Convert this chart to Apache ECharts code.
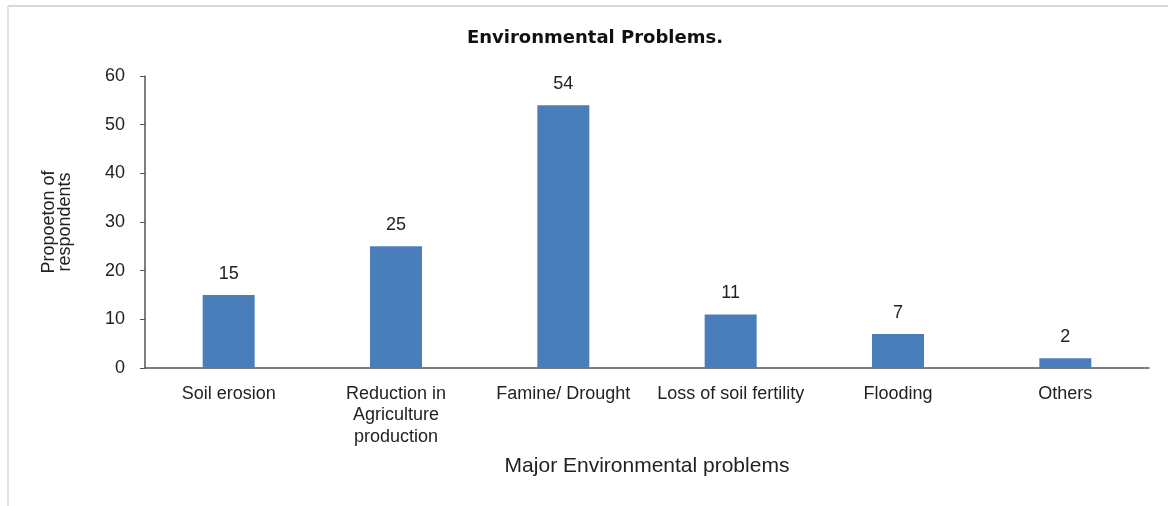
<!DOCTYPE html>
<html><head><meta charset="utf-8">
<script src="https://cdn.jsdelivr.net/npm/echarts@6/dist/echarts.min.js"></script>
<style>html,body{margin:0;padding:0;background:#fff}#c{width:1168px;height:506px}</style>
</head><body><div id="c"></div>
<script>
const categories = ["Soil erosion", "Reduction in\nAgriculture\nproduction", "Famine/ Drought", "Loss of soil fertility", "Flooding", "Others"];
const values = [15, 25, 54, 11, 7, 2];
const yTicks = [0, 10, 20, 30, 40, 50, 60];

const chart = echarts.init(document.getElementById('c'), null, {renderer: 'canvas'});
const font = 'Liberation Sans, Arial, sans-serif';
chart.setOption({
  animation: false,
  backgroundColor: '#fff',
  title: {
    text: 'Environmental Problems.', left: 590, top: 24, textAlign: 'center',
    textStyle: {fontFamily: 'DejaVu Sans', fontSize: 18, fontWeight: 'bold', color: '#111'}
  },
  graphic: [
    {type: 'line', shape: {x1: 8, y1: 6, x2: 1168, y2: 6}, style: {stroke: '#d8d8d8', lineWidth: 2}},
    {type: 'line', shape: {x1: 8, y1: 6, x2: 8, y2: 506}, style: {stroke: '#e0e0e0', lineWidth: 2}}
  ],
  grid: {left: 145, right: 19, top: 76, bottom: 138},
  xAxis: {
    type: 'category', data: categories,
    name: 'Major Environmental problems', nameLocation: 'middle', nameGap: 88,
    nameTextStyle: {fontFamily: font, fontSize: 21, color: '#222'},
    axisLine: {lineStyle: {color: '#555', width: 1.5}},
    axisTick: {inside: true, length: 4, lineStyle: {color: '#555'}},
    axisLabel: {fontFamily: font, fontSize: 18, color: '#222', margin: 15, lineHeight: 21.5, interval: 0}
  },
  yAxis: {
    type: 'value', min: 0, max: 60, interval: 10,
    name: 'Propoeton of\nrespondents', nameLocation: 'middle', nameGap: 72, nameRotate: 90,
    nameTextStyle: {fontFamily: font, fontSize: 18, color: '#222', lineHeight: 16},
    axisLine: {show: true, lineStyle: {color: '#555', width: 1.5}},
    axisTick: {show: true, length: 5, lineStyle: {color: '#555'}},
    splitLine: {show: false},
    axisLabel: {fontFamily: font, fontSize: 18, color: '#222', margin: 20,
      formatter: v => yTicks.includes(v) ? String(v) : ''}
  },
  series: [{
    type: 'bar', data: values, barWidth: 52,
    itemStyle: {color: '#4a7ebb'},
    label: {show: true, position: 'top', distance: 12, fontFamily: font, fontSize: 18, color: '#222'}
  }]
});
</script></body></html>
